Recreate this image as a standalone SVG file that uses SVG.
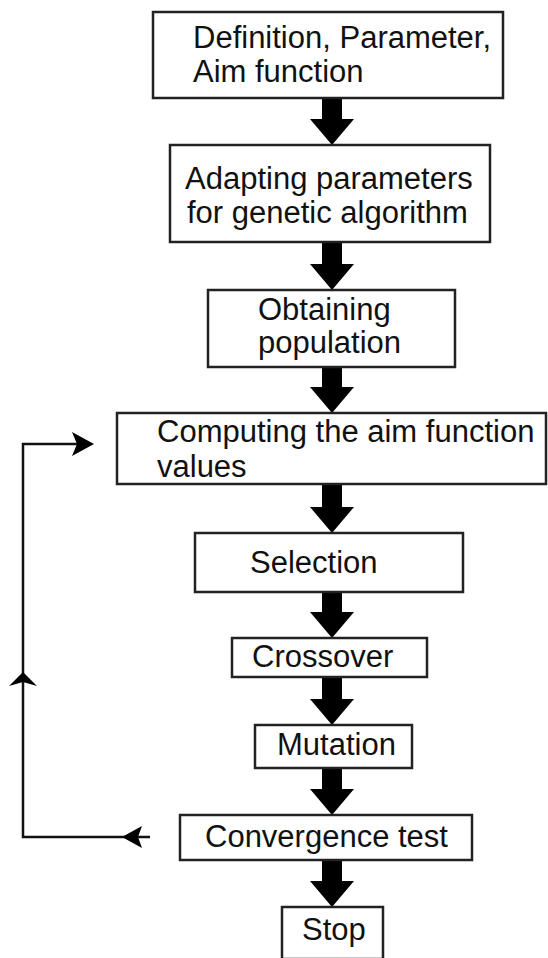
<svg xmlns="http://www.w3.org/2000/svg" width="548" height="958" viewBox="0 0 548 958">
<style>
.box{fill:#fff;stroke:#222;stroke-width:2.5}
.t{font-family:"Liberation Sans",Arial,sans-serif;font-size:31px;fill:#111}
.blk{fill:#000}
.ln{fill:none;stroke:#111;stroke-width:2.5}
.ah{fill:#000}
</style>
<rect width="548" height="958" fill="#fff"/>
<g id="connectors">
<polygon class="blk" points="322,98 342,98 342,119 354,119 332,145 310,119 322,119"/>
<polygon class="blk" points="322,242 342,242 342,264 354,264 332,290 310,264 322,264"/>
<polygon class="blk" points="322,367 342,367 342,387 354,387 332,413 310,387 322,387"/>
<polygon class="blk" points="322,484 342,484 342,507 354,507 332,533 310,507 322,507"/>
<polygon class="blk" points="322,592 342,592 342,612 354,612 332,638 310,612 322,612"/>
<polygon class="blk" points="322,677 342,677 342,699 354,699 332,725 310,699 322,699"/>
<polygon class="blk" points="322,768 342,768 342,789 354,789 332,815 310,789 322,789"/>
<polygon class="blk" points="322,860 342,860 342,881 354,881 332,907 310,881 322,881"/>
<polyline class="ln" points="150,837 23,837 23,444 80,444"/>
<polygon class="ah" points="122,837 142,826 138,837 142,848"/>
<polygon class="ah" points="23,672 9,686 23,682 37,686"/>
<polygon class="ah" points="94,444 72,432 77,444 72,456"/>
</g>
<g id="n1"><rect class="box" x="153" y="12" width="350" height="86"/>
<text class="t" x="193" y="48">Definition, Parameter,</text>
<text class="t" x="193" y="82">Aim function</text></g>
<g id="n2"><rect class="box" x="170" y="145" width="320" height="97"/>
<text class="t" x="185" y="189">Adapting parameters</text>
<text class="t" x="187" y="223">for genetic algorithm</text></g>
<g id="n3"><rect class="box" x="208" y="290" width="247" height="77"/>
<text class="t" x="258" y="320">Obtaining</text>
<text class="t" x="258" y="353">population</text></g>
<g id="n4"><rect class="box" x="117" y="413" width="429" height="71"/>
<text class="t" x="157" y="442">Computing the aim function</text>
<text class="t" x="157" y="477">values</text></g>
<g id="n5"><rect class="box" x="195" y="533" width="268" height="59"/>
<text class="t" x="250" y="573">Selection</text></g>
<g id="n6"><rect class="box" x="232" y="638" width="195" height="39"/>
<text class="t" x="252" y="667">Crossover</text></g>
<g id="n7"><rect class="box" x="255" y="725" width="157" height="43"/>
<text class="t" x="277" y="755">Mutation</text></g>
<g id="n8"><rect class="box" x="180" y="815" width="292" height="45"/>
<text class="t" x="205" y="847">Convergence test</text></g>
<g id="n9"><rect class="box" x="282" y="907" width="101" height="52"/>
<text class="t" x="302" y="940">Stop</text></g>
</svg>
